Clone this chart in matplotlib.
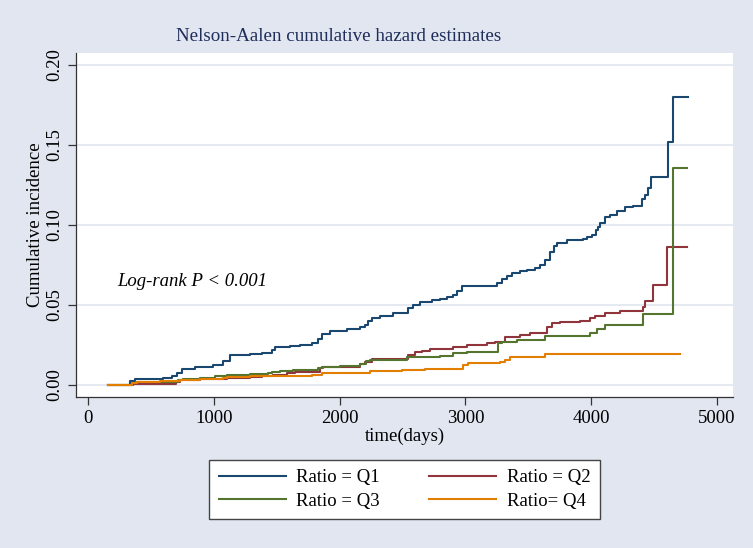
# Nelson-Aalen cumulative hazard by ratio quartile (Stata-like look)

import matplotlib
matplotlib.use("Agg")
import matplotlib.pyplot as plt

plt.rcParams["font.family"] = ["Liberation Serif", "DejaVu Serif"]

# step points: (time in days, cumulative hazard after the step)
q1_t = [159, 334, 374, 596, 668, 707, 747, 851, 994, 1073, 1129, 1288, 1383, 1463,
        1486, 1606, 1685, 1781, 1828, 1860, 1924, 2003, 2059, 2162, 2202, 2226, 2258,
        2321, 2424, 2544, 2583, 2639, 2734, 2798, 2854, 2901, 2933, 2973, 3251, 3291,
        3331, 3370, 3434, 3490, 3553, 3593, 3633, 3672, 3704, 3728, 3808, 3935, 3967,
        4006, 4038, 4054, 4070, 4110, 4149, 4205, 4269, 4332, 4404, 4428, 4452, 4475,
        4610, 4650, 4770]
q1_h = [0.0, 0.0025, 0.004, 0.0045, 0.0055, 0.0075, 0.010, 0.011, 0.0125, 0.015,
        0.019, 0.0195, 0.020, 0.022, 0.024, 0.0245, 0.025, 0.026, 0.029, 0.032,
        0.0335, 0.034, 0.035, 0.0365, 0.0375, 0.040, 0.042, 0.043, 0.045, 0.048,
        0.050, 0.052, 0.053, 0.054, 0.055, 0.056, 0.059, 0.062, 0.064, 0.066, 0.068,
        0.070, 0.071, 0.072, 0.073, 0.075, 0.078, 0.083, 0.087, 0.0885, 0.0906,
        0.0915, 0.0927, 0.094, 0.097, 0.099, 0.101, 0.105, 0.106, 0.109, 0.111,
        0.112, 0.1165, 0.119, 0.123, 0.130, 0.152, 0.180, 0.180]

q2_t = [159, 358, 700, 731, 890, 1105, 1288, 1383, 1471, 1582, 1645, 1844, 1868, 2162,
        2202, 2258, 2440, 2544, 2599, 2655, 2719, 2901, 3013, 3172, 3235, 3315, 3434,
        3513, 3649, 3688, 3752, 3911, 3990, 4030, 4110, 4229, 4412, 4428, 4491, 4603,
        4762]
q2_h = [0.0, 0.0008, 0.002, 0.003, 0.0035, 0.0045, 0.005, 0.0056, 0.0065, 0.0075,
        0.0083, 0.0108, 0.0115, 0.013, 0.0146, 0.016, 0.0165, 0.019, 0.0208, 0.0215,
        0.0223, 0.024, 0.025, 0.026, 0.027, 0.0298, 0.031, 0.0327, 0.0365, 0.0385,
        0.0396, 0.040, 0.0417, 0.043, 0.0448, 0.046, 0.049, 0.0527, 0.0625, 0.0865,
        0.0865]

q3_t = [159, 350, 390, 715, 755, 890, 1010, 1105, 1288, 1431, 1463, 1526, 1630, 1828,
        1860, 2003, 2162, 2210, 2242, 2536, 2583, 2798, 2901, 3013, 3259, 3291, 3410,
        3633, 3990, 4046, 4110, 4412, 4650, 4762]
q3_h = [0.0, 0.0015, 0.002, 0.003, 0.0036, 0.0045, 0.0055, 0.0063, 0.0067, 0.0077,
        0.0083, 0.009, 0.0094, 0.0105, 0.0115, 0.0119, 0.013, 0.0152, 0.0156, 0.0173,
        0.0177, 0.018, 0.0198, 0.0208, 0.026, 0.027, 0.028, 0.0308, 0.0327, 0.035,
        0.0375, 0.0442, 0.1354, 0.1354]

q4_t = [159, 350, 390, 572, 731, 890, 1073, 1105, 1288, 1781, 1860, 2242, 2496, 2679,
        2981, 3021, 3275, 3315, 3355, 3633, 4706]
q4_h = [0.0, 0.001, 0.0017, 0.0025, 0.003, 0.0035, 0.0045, 0.0052, 0.0056, 0.0062,
        0.0077, 0.0087, 0.0094, 0.010, 0.0125, 0.0135, 0.0145, 0.0156, 0.0173, 0.0192,
        0.0192]

labels = ["Ratio = Q1", "Ratio = Q2", "Ratio = Q3", "Ratio= Q4"]
colors = ["#1a476f", "#90353b", "#55752f", "#e37e00"]
x_ticks = [0, 1000, 2000, 3000, 4000, 5000]
y_ticks = [0.0, 0.05, 0.10, 0.15, 0.20]

bg = "#e1e6f0"
fig = plt.figure(figsize=(7.53, 5.48), dpi=100, facecolor=bg)
ax = fig.add_axes([0.1009, 0.2755, 0.8725, 0.6278])
ax.set_facecolor("white")

for y in y_ticks:
    ax.axhline(y, color="#dde3ef", linewidth=1.1, zorder=0)

series = [(q1_t, q1_h), (q2_t, q2_h), (q3_t, q3_h), (q4_t, q4_h)]
lines = []
for (t, h), lab, col in zip(series, labels, colors):
    ln, = ax.plot(t, h, drawstyle="steps-post", color=col, linewidth=1.5, label=lab)
    lines.append(ln)

ax.set_xlim(-95, 5127)
ax.set_ylim(-0.0075, 0.2075)
ax.set_xticks(x_ticks)
ax.set_yticks(y_ticks)
ax.set_yticklabels([f"{v:.2f}" for v in y_ticks], rotation=90, va="center")
ax.tick_params(labelsize=13.5, length=6, width=0.9, color="#333333", pad=3)

for side in ["top", "right"]:
    ax.spines[side].set_visible(False)
for side in ["left", "bottom"]:
    ax.spines[side].set_color("#333333")
    ax.spines[side].set_linewidth(0.9)

ax.set_xlabel("time(days)", fontsize=13.5, labelpad=1)
ax.set_ylabel("Cumulative incidence", fontsize=13.5, labelpad=2)

ax.text(230, 0.0644, "Log-rank P < 0.001", fontsize=13.5, style="italic",
        va="center", ha="left")

fig.text(0.450, 0.934, "Nelson-Aalen cumulative hazard estimates", fontsize=13.7,
         color="#1e2d5a", ha="center", va="center")

# row-wise legend order: Q1 Q2 / Q3 Q4
order = [0, 2, 1, 3]
leg = fig.legend([lines[i] for i in order], [labels[i] for i in order],
                 loc="center", bbox_to_anchor=(0.537, 0.107), ncol=2, fontsize=13.5,
                 frameon=True, fancybox=False, edgecolor="#444444", facecolor="white",
                 framealpha=1.0, handlelength=3.6, handletextpad=0.55,
                 columnspacing=2.6, borderpad=0.5, labelspacing=0.35)
leg.get_frame().set_linewidth(1.0)

fig.savefig("out.png", dpi=100, facecolor=bg)
